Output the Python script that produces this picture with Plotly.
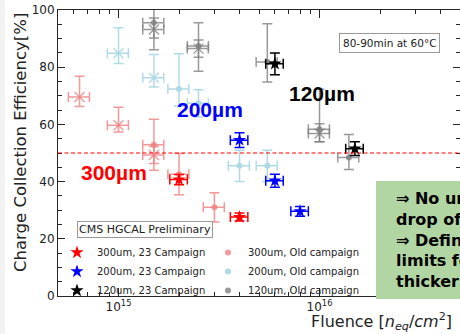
import plotly.graph_objects as go

# ---------------- data ----------------
# 23 Campaign (stars)
F300_NEW = [2.0e15, 4.0e15]
CCE300_NEW = [40.7, 27.6]
ERR300_NEW = [1.8, 1.4]

F200_NEW = [4.0e15, 6.0e15, 8.0e15]
CCE200_NEW = [54.5, 40.3, 29.6]
ERR200_NEW = [2.6, 2.3, 1.7]

F120_NEW = [6.0e15, 1.5e16]
CCE120_NEW = [81.2, 51.5]
ERR120_NEW = [3.8, 2.4]

# Old campaign (dots)
F300_OLD = [1.5e15, 2.0e15, 3.0e15]
CCE300_OLD = [52.9, 42.6, 31.0]
ERR300_OLD_UP = [8.9, 7.2, 5.1]
ERR300_OLD_DN = [8.9, 7.2, 5.1]

F200_OLD = [2.0e15, 2.5e15, 4.0e15, 5.5e15]
CCE200_OLD = [72.4, 67.4, 45.5, 45.5]
ERR200_OLD_UP = [12.3, 4.7, 5.5, 5.5]
ERR200_OLD_DN = [6.0, 4.8, 5.5, 5.5]

F120_OLD = [1.5e15, 2.5e15, 5.5e15, 1.0e16, 1.4e16]
CCE120_OLD = [95.5, 87.4, 81.8, 58.3, 48.4]
ERR120_OLD_UP = [9.5, 8.1, 13.4, 14.0, 8.1]
ERR120_OLD_DN = [9.4, 8.8, 7.0, 4.4, 4.2]

# Old campaign (x markers)
F300_OLDX = [6.4e14, 1.0e15, 1.5e15]
CCE300_OLDX = [69.6, 59.7, 49.3]
ERR300_OLDX_UP = [7.2, 6.3, 3.0]
ERR300_OLDX_DN = [3.3, 2.4, 3.0]

F200_OLDX = [1.0e15, 1.5e15]
CCE200_OLDX = [84.9, 76.3]
ERR200_OLDX_UP = [8.9, 8.1]
ERR200_OLDX_DN = [3.6, 3.2]

F120_OLDX = [1.5e15, 2.5e15, 1.0e16]
CCE120_OLDX = [93.2, 86.5, 56.8]
ERR120_OLDX_UP = [4.0, 3.0, 3.4]
ERR120_OLDX_DN = [3.0, 3.0, 2.9]

# relative fluence uncertainties
XERR_NEW = 0.10
XERR_OLD = 0.12

X_TICKS = [1e15, 1e16]
X_TICKTEXT = ["10<sup>15</sup>", "10<sup>16</sup>"]
X_MINOR = [k * 10 ** e for e in (14, 15, 16) for k in range(2, 10)]
Y_TICKS = [0, 20, 40, 60, 80, 100]

# ---------------- layout geometry ----------------
W, H = 460, 334
ML, MR, MT, MB = 58, 0, 10, 38
PW, PH = W - ML - MR, H - MT - MB


def px(x):
    return (x - ML) / PW


def py(y):
    return (H - MB - y) / PH


FONT = "DejaVu Sans"
fig = go.Figure()


def add_series(F, C, up, dn, xrel, color, symbol, size, name, rank, legend,
               lw=1.5, cap=5, clip=True, line_marker=False):
    mk = dict(symbol=symbol, size=size, color=color)
    if line_marker:
        mk["line"] = dict(color=color, width=1.3)
    fig.add_trace(go.Scatter(
        x=F, y=C, mode="markers", name=name,
        showlegend=legend, legendrank=rank,
        marker=mk, cliponaxis=clip,
        error_y=dict(type="data", array=up, arrayminus=dn, symmetric=False,
                     color=color, thickness=lw, width=cap),
        error_x=dict(type="data", array=[f * xrel for f in F],
                     arrayminus=[f * xrel for f in F], symmetric=False,
                     color=color, thickness=lw, width=cap),
    ))


C300_OLD = "rgba(240,128,128,0.8)"
C200_OLD = "rgba(173,216,230,0.95)"
C120_OLD = "rgba(128,128,128,0.8)"

# old campaign first (drawn underneath)
add_series(F300_OLDX, CCE300_OLDX, ERR300_OLDX_UP, ERR300_OLDX_DN, XERR_OLD,
           C300_OLD, "x-thin", 10, "300um x", 10, False, line_marker=True)
add_series(F200_OLDX, CCE200_OLDX, ERR200_OLDX_UP, ERR200_OLDX_DN, XERR_OLD,
           C200_OLD, "x-thin", 10, "200um x", 11, False, line_marker=True)
add_series(F120_OLDX, CCE120_OLDX, ERR120_OLDX_UP, ERR120_OLDX_DN, XERR_OLD,
           C120_OLD, "x-thin", 10, "120um x", 12, False, line_marker=True)

add_series(F300_OLD, CCE300_OLD, ERR300_OLD_UP, ERR300_OLD_DN, XERR_OLD,
           C300_OLD, "circle", 6, "300um, Old campaign", 2, True)
add_series(F200_OLD, CCE200_OLD, ERR200_OLD_UP, ERR200_OLD_DN, XERR_OLD,
           C200_OLD, "circle", 6, "200um, Old campaign", 4, True)
add_series(F120_OLD, CCE120_OLD, ERR120_OLD_UP, ERR120_OLD_DN, XERR_OLD,
           C120_OLD, "circle", 6, "120um, Old campaign", 6, True, clip=False)

add_series(F300_NEW, CCE300_NEW, ERR300_NEW, ERR300_NEW, XERR_NEW,
           "red", "star", 10, "300um, 23 Campaign", 1, True)
add_series(F200_NEW, CCE200_NEW, ERR200_NEW, ERR200_NEW, XERR_NEW,
           "blue", "star", 10, "200um, 23 Campaign", 3, True)
add_series(F120_NEW, CCE120_NEW, ERR120_NEW, ERR120_NEW, XERR_NEW,
           "black", "star", 10, "120um, 23 Campaign", 5, True)

AX = "#262626"
fig.update_xaxes(
    type="log", range=[14.69897, 16.69897],
    tickvals=X_TICKS, ticktext=X_TICKTEXT,
    ticks="inside", ticklen=8, tickwidth=1, tickcolor=AX,
    minor=dict(tickvals=X_MINOR, ticks="inside", ticklen=4, tickcolor=AX),
    showline=True, linecolor=AX, linewidth=1, mirror="allticks",
    showgrid=False, zeroline=False,
    tickfont=dict(family=FONT, size=12, color="#222"),
)
fig.update_yaxes(
    range=[0, 100], tickvals=Y_TICKS,
    ticks="inside", ticklen=7, tickwidth=1, tickcolor=AX,
    minor=dict(dtick=5, ticks="inside", ticklen=4, tickcolor=AX),
    showline=True, linecolor=AX, linewidth=1, mirror="allticks",
    showgrid=False, zeroline=False,
    tickfont=dict(family=FONT, size=12, color="#222"),
)

shapes = [
    dict(type="rect", xref="paper", yref="paper", x0=px(0), x1=px(5),
         y0=py(H), y1=py(0), fillcolor="#f3f3f3", line=dict(width=0),
         layer="below"),
    dict(type="line", xref="paper", yref="y", x0=0, x1=1, y0=50, y1=50,
         line=dict(color="red", width=1.2, dash="4px,2.5px")),
    dict(type="rect", xref="paper", yref="paper", x0=px(376), x1=px(470),
         y0=py(299), y1=py(181), fillcolor="#B2D6A3", line=dict(width=0),
         layer="above"),
]

annotations = [
    dict(text="Charge Collection Efficiency[%]", x=px(20), y=py(143),
         textangle=-90, font=dict(family=FONT, size=16.5, color="#222")),
    dict(text="Fluence [<i>n</i><sub><i>eq</i></sub>/<i>cm</i><sup>2</sup>]",
         x=px(309), y=py(321), xanchor="left",
         font=dict(family=FONT, size=16, color="#222")),
    dict(text="300µm", x=px(113.5), y=py(172),
         font=dict(family="Liberation Sans", size=21, color="red", weight="bold")),
    dict(text="200µm", x=px(209.5), y=py(109),
         font=dict(family="Liberation Sans", size=21, color="blue", weight="bold")),
    dict(text="120µm", x=px(322), y=py(93),
         font=dict(family="Liberation Sans", size=21, color="black", weight="bold")),
    dict(text="80-90min at 60°C", x=px(389.5), y=py(43),
         font=dict(family=FONT, size=10.5, color="#222"),
         bordercolor="#999", borderwidth=1, borderpad=3, bgcolor="white"),
    dict(text="CMS HGCAL Preliminary", x=px(144.5), y=py(229.5),
         font=dict(family=FONT, size=11, color="#222"),
         bordercolor="#999", borderwidth=1, borderpad=1, bgcolor="white"),
    dict(text="⇒ No unexpected<br>drop of CCE<br>⇒ Define fluence<br>limits for<br>thicker sensors",
         x=px(394), y=py(240), xanchor="left", align="left",
         font=dict(family=FONT, size=16, color="black", weight="bold")),
]
for a in annotations:
    a.setdefault("xref", "paper")
    a.setdefault("yref", "paper")
    a.setdefault("xanchor", "center")
    a.setdefault("yanchor", "middle")
    a.setdefault("showarrow", False)

fig.update_layout(
    width=W, height=H,
    margin=dict(l=ML, r=MR, t=MT, b=MB, autoexpand=False),
    paper_bgcolor="white", plot_bgcolor="white",
    shapes=shapes, annotations=annotations,
    showlegend=True,
    legend=dict(orientation="h", x=px(208), y=py(238), xanchor="center",
                yanchor="top", entrywidth=106, bgcolor="rgba(0,0,0,0)",
                font=dict(family=FONT, size=10, color="#222"),
                itemwidth=30, tracegroupgap=0),
)

fig.write_html("out.html",
               config={"displayModeBar": False},
               post_script="document.body.style.margin='0';")
